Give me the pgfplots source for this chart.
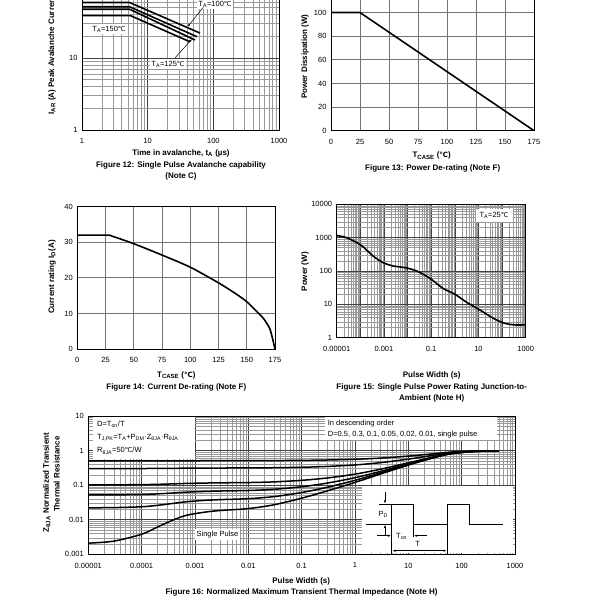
\documentclass[border=0pt]{standalone}
\usepackage{fontspec}
\setmainfont{Liberation Sans}
\newfontfamily\dv[Scale=0.9]{DejaVu Sans}
\usepackage{pgfplots}
\pgfplotsset{compat=1.18}
\usetikzlibrary{arrows.meta}

\newcommand\tk{\fontsize{7.5}{9}\selectfont}
\newcommand\lb{\fontsize{8}{9.6}\selectfont\bfseries}
\newcommand\degC{{\dv ℃}}

\pgfplotsset{
  sheet/.style={
    scale only axis, anchor=south west,
    axis line style={line width=0.8pt},
    major tick length=0pt, minor tick length=0pt,
    tick label style={font=\tk},
    xticklabel style={yshift=-5pt},
    yticklabel style={xshift=-1pt},
    /pgf/number format/assume math mode=true,
    major grid style={black!75, line width=0.5pt},
    minor grid style={black!40, line width=0.4pt},
    cycle list={{black, solid}},
    every axis plot post/.append style={black, solid, line width=1.6pt, no markers},
  },
  lingrid/.style={grid=major, major grid style={black!55, line width=0.7pt}},
  mx8/.style={minor xtick={2e-5,3e-5,4e-5,5e-5,6e-5,7e-5,8e-5,9e-5,
    2e-4,3e-4,4e-4,5e-4,6e-4,7e-4,8e-4,9e-4,
    2e-3,3e-3,4e-3,5e-3,6e-3,7e-3,8e-3,9e-3,
    0.02,0.03,0.04,0.05,0.06,0.07,0.08,0.09,
    0.2,0.3,0.4,0.5,0.6,0.7,0.8,0.9,
    2,3,4,5,6,7,8,9,20,30,40,50,60,70,80,90,
    200,300,400,500,600,700,800,900}},
}

\begin{document}
\begin{tikzpicture}[x=1pt,y=1pt]
\useasboundingbox (0,0) rectangle (600,600);
\clip (0,0) rectangle (600,600);

% Figure 12
\begin{axis}[sheet, at={(82pt,470pt)}, width=197pt, height=144pt,
  xmode=log, ymode=log, xmin=1, xmax=1000, ymin=1, ymax=100,
  xtick={1,10,100,1000}, xticklabels={1,10,100,1000},
  ytick={1,10,100}, yticklabels={1,10,},
  minor xtick={2,3,4,5,6,7,8,9,20,30,40,50,60,70,80,90,200,300,400,500,600,700,800,900},
  minor ytick={2,3,4,5,6,7,8,9,20,30,40,50,60,70,80,90},
  grid=both]
\addplot coordinates {(1,59) (5.3,59) (62.5,22.2)};
\addplot coordinates {(1,51.5) (5.3,51.5) (56,19.8)};
\addplot coordinates {(1,47.5) (5.3,47.5) (52.5,17.8)};
\addplot coordinates {(1,38.7) (5.5,38.7) (44,16.8)};
\end{axis}
\node[rotate=90, anchor=west, font=\lb] at (52,482) {I\textsubscript{AR} (A) Peak Avalanche Current};
\node[font=\lb] at (181,447) {Time in avalanche, t\textsubscript{A} (µs)};
\node[font=\lb] at (181,435) {Figure 12: Single Pulse Avalanche capability};
\node[font=\lb] at (181,423.3) {(Note C)};
\node[fill=white, font=\tk, inner sep=1.5pt] at (109,571) {T\textsubscript{A}=150\degC};
\node[fill=white, font=\tk, inner sep=1.5pt] at (168,536) {T\textsubscript{A}=125\degC};
\node[fill=white, font=\tk, inner sep=1.5pt] at (215,596) {T\textsubscript{A}=100\degC};
\draw[-{Latex[length=3pt]}, line width=0.5pt] (203.3,592.7) -- (187.7,573.3);
\draw[-{Latex[length=3pt]}, line width=0.5pt] (175,542) -- (192,561);

% Figure 13
\begin{axis}[sheet, lingrid, at={(331pt,469.3pt)}, width=203pt, height=141.8pt,
  xmin=0, xmax=175, ymin=0, ymax=120,
  xtick={0,25,...,175}, ytick={0,20,...,120}, yticklabels={0,20,40,60,80,100,}]
\addplot coordinates {(0,100) (25,100) (175,0)};
\end{axis}
\node[rotate=90, font=\lb] at (305,543.3) {Power Dissipation (W)};
\node[font=\lb] at (431.7,444.3) {T\textsubscript{CASE} (\degC)};
\node[font=\lb] at (432.7,432) {Figure 13: Power De-rating (Note F)};

% Figure 14
\begin{axis}[sheet, lingrid, at={(77.3pt,251pt)}, width=197.7pt, height=142.3pt,
  xmin=0, xmax=175, ymin=0, ymax=40,
  xtick={0,25,...,175}, ytick={0,10,...,40}]
\addplot[smooth, tension=0.4] coordinates {(0,32) (27,32) (31,31.7) (50,29.6) (75,26.4) (100,23) (125,18.6) (140,15.6) (150,13.3) (160,10.2) (165,8.5) (170,6) (172,4) (175,0)};
\end{axis}
\node[rotate=90, font=\lb] at (52,323) {Current rating I\textsubscript{D}(A)};
\node[font=\lb] at (176.3,225) {T\textsubscript{CASE} (\degC)};
\node[font=\lb] at (176.3,212.7) {Figure 14: Current De-rating (Note F)};

% Figure 15
\begin{axis}[sheet, mx8, at={(336.7pt,262.3pt)}, width=189pt, height=133.4pt,
  xmode=log, ymode=log, xmin=1e-5, xmax=1000, ymin=1, ymax=10000,
  xtick={1e-5,1e-4,1e-3,0.01,0.1,1,10,100,1000},
  xticklabels={0.00001,,0.001,,0.1,,10,,1000},
  ytick={1,10,100,1000,10000}, yticklabels={1,10,100,1000,10000},
  minor ytick={2,3,4,5,6,7,8,9,20,30,40,50,60,70,80,90,200,300,400,500,600,700,800,900,
    2000,3000,4000,5000,6000,7000,8000,9000},
  grid=both]
\addplot[smooth] coordinates {(1e-5,1150) (2.6e-5,1000) (1.05e-4,600) (3.5e-4,280)
  (9.3e-4,178) (2.5e-3,141) (7.8e-3,126) (0.0245,100) (0.089,60) (0.32,30)
  (1.02,20) (3.2,11.5) (11.5,6.8) (43,3.8) (130,2.7) (400,2.4) (1000,2.45)};
\end{axis}
\node[rotate=90, font=\lb] at (305,328.3) {Power (W)};
\node[fill=white, font=\tk, minimum width=37pt, minimum height=13pt, inner sep=1pt] at (494,384.7) {T\textsubscript{A}=25\degC};
\node[font=\lb] at (431.7,225) {Pulse Width (s)};
\node[font=\lb] at (431.7,212.3) {Figure 15: Single Pulse Power Rating Junction-to-};
\node[font=\lb] at (431.7,201.5) {Ambient (Note H)};

% Figure 16
\begin{axis}[sheet, mx8, at={(88.3pt,45.7pt)}, width=426.7pt, height=138.3pt,
  xmode=log, ymode=log, xmin=1e-5, xmax=1000, ymin=0.001, ymax=10,
  xtick={1e-5,1e-4,1e-3,0.01,0.1,1,10,100,1000},
  xticklabels={0.00001,0.0001,0.001,0.01,0.1,1,10,100,1000},
  ytick={0.001,0.01,0.1,1,10}, yticklabels={0.001,0.01,0.1,1,10},
  minor ytick={0.002,0.003,0.004,0.005,0.006,0.007,0.008,0.009,
    0.02,0.03,0.04,0.05,0.06,0.07,0.08,0.09,0.2,0.3,0.4,0.5,0.6,0.7,0.8,0.9,
    2,3,4,5,6,7,8,9},
  grid=both, every axis plot post/.append style={line width=1.5pt, smooth}]
% D=0.5
\addplot coordinates {(1e-5,0.501) (3e-5,0.501) (1e-4,0.502) (2e-4,0.503) (4e-4,0.505)
  (7e-4,0.507) (1.5e-3,0.508) (3e-3,0.509) (0.01,0.511) (0.03,0.514) (0.1,0.521)
  (0.3,0.534) (1,0.56) (3,0.605) (10,0.69) (30,0.81) (60,0.9) (100,0.94)
  (150,0.965) (250,0.98) (500,0.985)};
% D=0.3
\addplot coordinates {(1e-5,0.3015) (3e-5,0.3017) (1e-4,0.3027) (2e-4,0.3043) (4e-4,0.307)
  (7e-4,0.3095) (1.5e-3,0.3116) (3e-3,0.313) (0.01,0.3147) (0.03,0.319) (0.1,0.329)
  (0.3,0.348) (1,0.384) (3,0.447) (10,0.566) (30,0.734) (60,0.86) (100,0.916)
  (150,0.951) (250,0.972) (500,0.979)};
% D=0.1
\addplot coordinates {(1e-5,0.1019) (3e-5,0.1022) (1e-4,0.1034) (2e-4,0.1056) (4e-4,0.109)
  (7e-4,0.1122) (1.5e-3,0.1149) (3e-3,0.1167) (0.01,0.1189) (0.03,0.1243) (0.1,0.1378)
  (0.3,0.1612) (1,0.208) (3,0.289) (10,0.442) (30,0.658) (60,0.82) (100,0.892)
  (150,0.937) (250,0.964) (500,0.973)};
% D=0.05
\addplot coordinates {(1e-5,0.052) (3e-5,0.0523) (1e-4,0.0536) (2e-4,0.0559) (4e-4,0.0595)
  (7e-4,0.0628) (1.5e-3,0.0657) (3e-3,0.0676) (0.01,0.07) (0.03,0.0757) (0.1,0.0899)
  (0.3,0.1146) (1,0.164) (3,0.2495) (10,0.411) (30,0.639) (60,0.81) (100,0.886)
  (150,0.934) (250,0.962) (500,0.972)};
% D=0.02
\addplot coordinates {(1e-5,0.0221) (3e-5,0.0224) (1e-4,0.0237) (2e-4,0.0261) (4e-4,0.0298)
  (7e-4,0.0332) (1.5e-3,0.0362) (3e-3,0.0381) (0.01,0.0406) (0.03,0.0465) (0.1,0.0612)
  (0.3,0.0866) (1,0.1376) (3,0.2258) (10,0.3924) (30,0.6276) (60,0.804) (100,0.882)
  (150,0.931) (250,0.961) (500,0.971)};
% single pulse
\addplot coordinates {(1e-5,0.0021) (3e-5,0.0024) (1e-4,0.0038) (2e-4,0.0062) (4e-4,0.01)
  (7e-4,0.0135) (1.5e-3,0.0165) (3e-3,0.0185) (0.01,0.021) (0.03,0.027) (0.1,0.042)
  (0.3,0.068) (1,0.12) (3,0.21) (10,0.38) (30,0.62) (60,0.8) (100,0.88)
  (150,0.93) (250,0.96) (500,0.97)};
\end{axis}
\node[rotate=90, font=\lb] at (46.7,117.5) {Z\textsubscript{θJA} Normalized Transient};
\node[rotate=90, font=\lb] at (56.7,125.8) {Thermal Resistance};
\node[font=\lb] at (301.2,19) {Pulse Width (s)};
\node[font=\lb] at (301.5,7.7) {Figure 16: Normalized Maximum Transient Thermal Impedance (Note H)};
\fill[white] (93,183) rectangle (195,141);
\node[anchor=west, font=\tk, inner sep=0pt] at (97,176) {D=T\textsubscript{on}/T};
\node[anchor=west, font=\tk, inner sep=0pt] at (97,162.3) {T\textsubscript{J,PK}=T\textsubscript{A}+P\textsubscript{DM}·Z\textsubscript{θJA}·R\textsubscript{θJA}};
\node[anchor=west, font=\tk, inner sep=0pt] at (97,149.3) {R\textsubscript{θJA}=50\degC/W};
\fill[white] (325,183) rectangle (497,160);
\node[anchor=west, font=\tk, inner sep=0pt] at (327.7,176) {In descending order};
\node[anchor=west, font=\tk, inner sep=0pt] at (327.7,165.7) {D=0.5, 0.3, 0.1, 0.05, 0.02, 0.01, single pulse};
\node[fill=white, font=\tk, inner sep=2pt] at (217.5,65.7) {Single Pulse};
% pulse sketch
\fill[white] (362,114) rectangle (513,46.5);
\draw[line width=0.9pt] (366,76) -- (391.7,76) -- (391.7,95.7) -- (413.3,95.7) -- (413.3,76)
  -- (447.3,76) -- (447.3,95.7) -- (469.3,95.7) -- (469.3,76) -- (503.3,76);
\draw[line width=0.5pt] (379,95.7) -- (391.7,95.7);
\draw[line width=0.5pt] (391.7,76) -- (391.7,46) (447.3,76) -- (447.3,46) (413.3,76) -- (413.3,63);
\draw[-{Latex[length=3pt]}, line width=0.5pt] (385,108.3) -- (385,96.5);
\draw[-{Latex[length=3pt]}, line width=0.5pt] (385,65) -- (385,75.2);
\node[font=\tk] at (383.3,85.7) {P\textsubscript{D}};
\draw[-{Latex[length=3pt]}, line width=0.5pt] (377,64.3) -- (390.9,64.3);
\draw[-{Latex[length=3pt]}, line width=0.5pt] (426.7,64.3) -- (414.1,64.3);
\node[font=\tk] at (401.7,63.3) {T\textsubscript{on}};
\draw[{Latex[length=3pt]}-{Latex[length=3pt]}, line width=0.5pt] (392.5,49.3) -- (446.5,49.3);
\node[font=\tk] at (417.7,56) {T};
\end{tikzpicture}
\end{document}
